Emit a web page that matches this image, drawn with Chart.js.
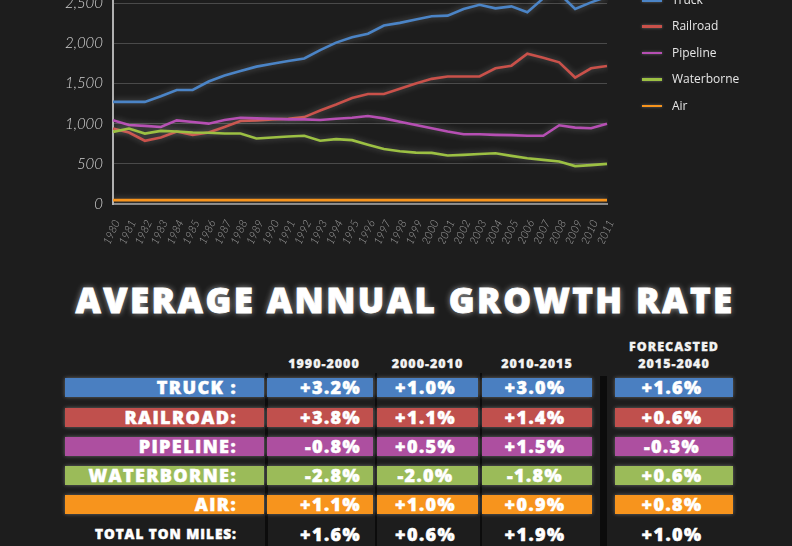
<!DOCTYPE html>
<html>
<head>
<meta charset="utf-8">
<script src="https://cdn.jsdelivr.net/npm/chart.js@4.4.1/dist/chart.umd.min.js"></script>
<style>
  body { margin:0; width:792px; height:546px; overflow:hidden; position:relative;
         background:#1d1d1d; font-family:"Open Sans", sans-serif; }
  #chartBox { position:absolute; left:0; top:-56px; width:640px; height:300px; }
  .leg { position:absolute; left:642px; height:14px; }
  .leg span.ln { position:absolute; left:0; top:7px; width:20px; height:2.5px;
                 box-shadow:0 0 3px rgba(255,255,255,0.35); }
  .leg span.tx { position:absolute; left:30px; top:-1px; font-size:12px; color:#e6e6e6;
                 white-space:nowrap; }
  #title { position:absolute; left:0; width:810px; top:282px; text-align:center;
           font-size:35px; line-height:35px; font-weight:800; color:#fff; letter-spacing:2.4px;
           -webkit-text-stroke:0.8px #fff;
           text-shadow:0 0 6px rgba(255,255,255,0.6); }
  .hd { position:absolute; font-size:12.5px; font-weight:800; color:#f2f2f2;
        letter-spacing:1px; text-align:center; line-height:14px; -webkit-text-stroke:0.3px #f2f2f2; }
  .bar { position:absolute; height:19px; line-height:19px; font-size:18px; font-weight:800;
         color:#fff; letter-spacing:1.4px; box-shadow:0 0 4px rgba(255,255,255,0.35);
         box-sizing:border-box; white-space:nowrap; -webkit-text-stroke:0.5px #fff; }
  .sep { position:absolute; background:#0c0c0c; }
  .tot { position:absolute; line-height:20px; font-weight:800; color:#fff; white-space:nowrap;
         -webkit-text-stroke:0.5px #fff; }
</style>
</head>
<body>
<div id="chartBox"><canvas id="myChart"></canvas></div>
<div id="title">AVERAGE ANNUAL GROWTH RATE</div>
<div id="table"></div>

<script>
// ton miles (billions)
var years = ['1980','1981','1982','1983','1984','1985','1986','1987','1988','1989',
             '1990','1991','1992','1993','1994','1995','1996','1997','1998','1999',
             '2000','2001','2002','2003','2004','2005','2006','2007','2008','2009','2010','2011'];
var truck = [1271,1271,1271,1341,1419,1419,1525,1599,1656,1710,1747,1779,1812,1915,2009,2075,
             2120,2222,2255,2296,2337,2345,2427,2480,2435,2460,2386,2560,2620,2427,2510,2580];
var railroad = [939,890,787,828,902,861,890,959,1033,1041,1054,1062,1082,1164,1238,1320,
                1369,1369,1435,1501,1558,1587,1587,1587,1689,1722,1870,1820,1763,1574,1689,1718];
var pipeline = [1041,984,972,959,1041,1021,1000,1046,1074,1066,1062,1054,1054,1046,1062,1074,
                1095,1066,1025,984,943,902,869,869,861,857,849,849,980,951,943,1000];
var waterborne = [898,939,877,910,902,890,886,877,877,816,828,841,849,787,808,795,
                  738,685,656,640,636,603,611,623,631,599,570,549,529,472,484,500];
var air = [48,48,48,48,48,48,48,48,48,48,48,48,48,48,48,48,
           48,48,48,48,48,48,48,48,48,48,48,48,48,48,48,48];

var seriesNames = ['Truck','Railroad','Pipeline','Waterborne','Air'];
var lineColors = ['#4b84c6','#c9514a','#b64fb3','#9cc043','#f7941d'];
var yTicks = [0,500,1000,1500,2000,2500];

// growth rate table
var modes = ['TRUCK :','RAILROAD:','PIPELINE:','WATERBORNE:','AIR:'];
var barColors = ['#4a7fc1','#c0504d','#ad4fa0','#9bbb59','#f7941d'];
var periods = ['1990-2000','2000-2010','2010-2015','2015-2040'];
var g1990_2000 = [3.2, 3.8, -0.8, -2.8, 1.1];
var g2000_2010 = [1.0, 1.1, 0.5, -2.0, 1.0];
var g2010_2015 = [3.0, 1.4, 1.5, -1.8, 0.9];
var g2015_2040 = [1.6, 0.6, -0.3, 0.6, 0.8];
var totalTonMiles = [1.6, 0.6, 1.9, 1.0];

function pct(v) { return (v < 0 ? '-' : '+') + Math.abs(v).toFixed(1) + '%'; }

// legend
var allData = [truck, railroad, pipeline, waterborne, air];
seriesNames.forEach(function(name, i) {
    var d = document.createElement('div');
    d.className = 'leg';
    d.style.top = (-8 + i * 26.4) + 'px';
    d.innerHTML = '<span class="ln" style="background:' + lineColors[i] + '"></span>' +
                  '<span class="tx">' + name + '</span>';
    document.body.appendChild(d);
});

// glow behind the lines
var glow = {
    id: 'glow',
    beforeDatasetsDraw: function(chart) {
        chart.ctx.save();
        chart.ctx.shadowColor = 'rgba(255,255,255,0.3)';
        chart.ctx.shadowBlur = 6;
    },
    afterDatasetsDraw: function(chart) { chart.ctx.restore(); }
};

var ctx = document.getElementById('myChart');
var myChart = new Chart(ctx, {
    type: 'line',
    data: {
        labels: years,
        datasets: allData.map(function(arr, i) {
            return {
                label: seriesNames[i],
                data: arr,
                borderColor: lineColors[i],
                backgroundColor: lineColors[i],
                borderWidth: 2.6,
                pointRadius: 0,
                tension: 0,
                fill: false
            };
        }).reverse()
    },
    options: {
        responsive: true,
        maintainAspectRatio: false,
        animation: false,
        layout: { padding: { top: 5, right: 33, left: 0, bottom: 0 } },
        plugins: { legend: { display: false }, tooltip: { enabled: false } },
        scales: {
            x: {
                grid: { display: false },
                border: { display: true, color: '#8a8a8a', width: 2 },
                ticks: {
                    autoSkip: false, minRotation: 65, maxRotation: 65, padding: 6, labelOffset: 4,
                    color: '#a0a0a0',
                    font: { family: 'Lato', style: 'italic', weight: '300', size: 11 }
                },
                afterFit: function(scale) { scale.height = 40; }
            },
            y: {
                min: 0, max: 3000,
                ticks: {
                    stepSize: 500, padding: 10, color: '#d0d0d0',
                    font: { family: 'Lato', style: 'italic', weight: '300', size: 15 },
                    callback: function(v) { return v.toLocaleString('en-US'); }
                },
                afterBuildTicks: function(scale) {
                    scale.ticks = yTicks.map(function(v) { return { value: v }; });
                },
                grid: { color: 'rgba(255,255,255,0.2)', lineWidth: 1, drawTicks: false },
                border: { display: true, color: '#b0b0b0', width: 2 },
                afterFit: function(scale) { scale.width = 113; }
            }
        }
    },
    plugins: [glow]
});

// table
var tbl = document.getElementById('table');
var colX = [[65,264],[267,373],[377,478],[482,592],[615,733]];
var rowTop = [378, 407.5, 437, 466, 495];

function add(cls, css, html) {
    var d = document.createElement('div');
    d.className = cls;
    for (var k in css) d.style[k] = css[k];
    d.innerHTML = html;
    tbl.appendChild(d);
    return d;
}

// separators
[265, 374.5, 479.5].forEach(function(x) {
    add('sep', { left: x + 'px', top: '373px', width: '2.5px', height: '175px' }, '');
});
add('sep', { left: '600px', top: '376px', width: '7px', height: '170px' }, '');

// headers
add('hd', { left: (colX[4][0] - 10) + 'px', width: (colX[4][1] - colX[4][0] + 20) + 'px', top: '340px' }, 'FORECASTED');
periods.forEach(function(p, j) {
    var c = colX[j + 1];
    var shift = j === 0 ? 4 : 0;
    add('hd', { left: (c[0] + shift - 10) + 'px', width: (c[1] - c[0] + 20) + 'px', top: '357px' }, p);
});

var cols = [g1990_2000, g2000_2010, g2010_2015, g2015_2040];
modes.forEach(function(m, i) {
    var top = rowTop[i] + 'px';
    add('bar', { left: colX[0][0] + 'px', width: (colX[0][1] - colX[0][0]) + 'px', top: top,
                 background: barColors[i], textAlign: 'right', paddingRight: '27px' }, m);
    cols.forEach(function(arr, j) {
        var c = colX[j + 1];
        var css = { left: c[0] + 'px', width: (c[1] - c[0]) + 'px', top: top, background: barColors[i] };
        if (j === 0) { css.textAlign = 'right'; css.paddingRight = '12px'; }
        else { css.textAlign = 'center'; css.paddingRight = '4px'; }
        add('bar', css, pct(arr[i]));
    });
});

// total row
add('tot', { left: colX[0][0] + 'px', width: (colX[0][1] - colX[0][0] - 27) + 'px', top: '524px',
             textAlign: 'right', fontSize: '13.5px', letterSpacing: '1px' }, 'TOTAL TON MILES:');
totalTonMiles.forEach(function(v, j) {
    var c = colX[j + 1];
    var css = { left: c[0] + 'px', width: (c[1] - c[0]) + 'px', top: '524px', fontSize: '18px',
                letterSpacing: '1.4px', boxSizing: 'border-box' };
    if (j === 0) { css.textAlign = 'right'; css.paddingRight = '12px'; }
    else { css.textAlign = 'center'; css.paddingRight = '4px'; }
    add('tot', css, pct(v));
});
</script>
</body>
</html>
